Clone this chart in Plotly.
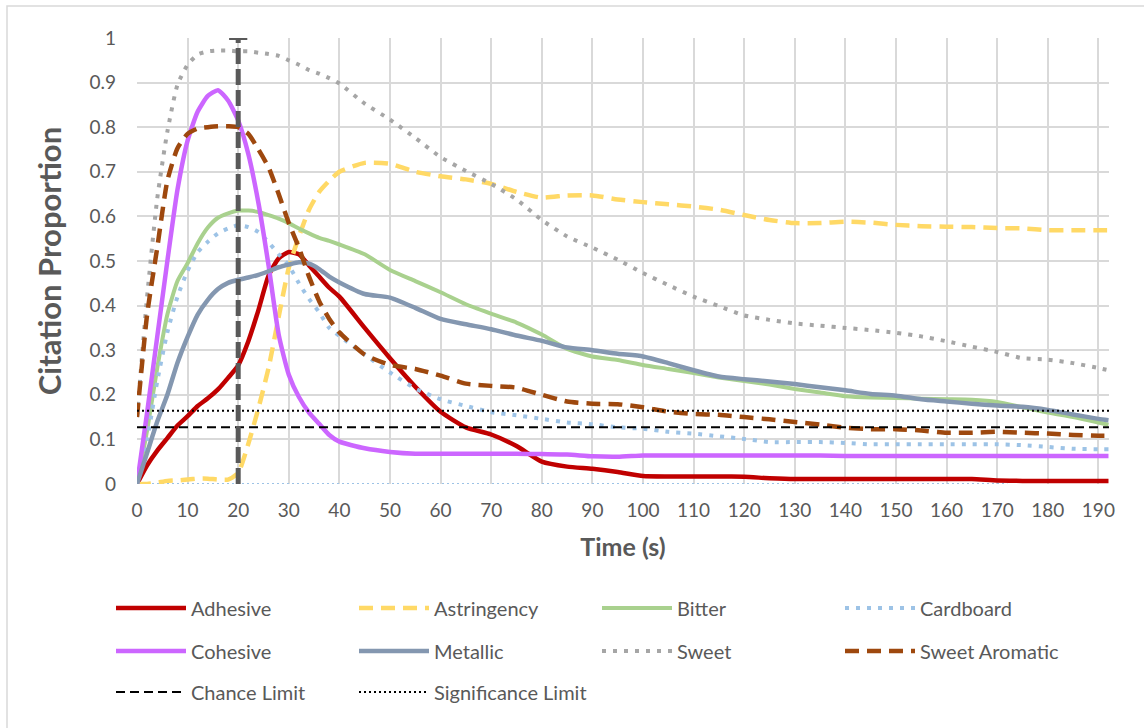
import plotly.graph_objects as go

# ---------------- data ----------------
time = [0, 2, 4, 6, 8, 10, 12, 14, 16, 18, 20, 22, 24, 26, 28, 30, 32, 34, 36, 38, 40,
        45, 50, 55, 60, 65, 70, 75, 80, 85, 90, 95, 100, 105, 110, 115, 120, 125, 130,
        135, 140, 145, 150, 155, 160, 165, 170, 175, 180, 185, 190, 192]

adhesive = [0, 0.042, 0.075, 0.103, 0.131, 0.152, 0.175, 0.192, 0.212, 0.238, 0.266, 0.32,
            0.39, 0.467, 0.506, 0.52, 0.515, 0.49, 0.465, 0.44, 0.42,
            0.35, 0.282, 0.218, 0.162, 0.127, 0.111, 0.085, 0.05, 0.039, 0.034, 0.027,
            0.018, 0.017, 0.017, 0.017, 0.016, 0.013, 0.011, 0.011, 0.011, 0.011, 0.011,
            0.011, 0.011, 0.011, 0.008, 0.007, 0.007, 0.007, 0.007, 0.007]

astringency = [0, 0.0, 0.003, 0.007, 0.008, 0.01, 0.012, 0.012, 0.01, 0.01, 0.025, 0.09,
               0.17, 0.26, 0.375, 0.485, 0.555, 0.615, 0.655, 0.68, 0.7,
               0.72, 0.718, 0.7, 0.69, 0.683, 0.673, 0.655, 0.642, 0.647, 0.647, 0.638,
               0.632, 0.627, 0.622, 0.615, 0.603, 0.592, 0.585, 0.585, 0.588, 0.586, 0.581,
               0.578, 0.577, 0.576, 0.574, 0.573, 0.569, 0.569, 0.569, 0.569]

bitter = [0, 0.12, 0.26, 0.38, 0.455, 0.495, 0.54, 0.575, 0.597, 0.607, 0.613, 0.613,
          0.61, 0.603, 0.595, 0.585, 0.573, 0.562, 0.552, 0.545, 0.537,
          0.515, 0.48, 0.455, 0.43, 0.403, 0.382, 0.362, 0.335, 0.303, 0.286, 0.278,
          0.267, 0.258, 0.249, 0.239, 0.231, 0.223, 0.213, 0.205, 0.197, 0.194, 0.193,
          0.191, 0.19, 0.189, 0.184, 0.172, 0.16, 0.15, 0.138, 0.133]

cardboard = [0, 0.1, 0.23, 0.34, 0.42, 0.478, 0.52, 0.543, 0.562, 0.573, 0.58, 0.576,
             0.565, 0.542, 0.515, 0.49, 0.45, 0.415, 0.385, 0.35, 0.332,
             0.29, 0.25, 0.214, 0.19, 0.175, 0.161, 0.154, 0.146, 0.138, 0.134, 0.127,
             0.124, 0.117, 0.113, 0.107, 0.101, 0.094, 0.094, 0.094, 0.092, 0.089, 0.089,
             0.089, 0.089, 0.089, 0.089, 0.087, 0.083, 0.079, 0.078, 0.078]

cohesive = [0, 0.16, 0.33, 0.5, 0.66, 0.77, 0.835, 0.87, 0.883, 0.86, 0.815, 0.74,
            0.63, 0.49, 0.335, 0.245, 0.195, 0.16, 0.135, 0.11, 0.095,
            0.08, 0.072, 0.068, 0.068, 0.068, 0.068, 0.068, 0.067, 0.066, 0.062, 0.061,
            0.064, 0.064, 0.064, 0.064, 0.064, 0.064, 0.064, 0.064, 0.063, 0.063, 0.063,
            0.063, 0.063, 0.063, 0.063, 0.063, 0.063, 0.063, 0.063, 0.063]

metallic = [0, 0.07, 0.14, 0.2, 0.272, 0.33, 0.38, 0.413, 0.437, 0.451, 0.458, 0.463,
            0.469, 0.477, 0.486, 0.492, 0.497, 0.494, 0.482, 0.465, 0.452,
            0.426, 0.418, 0.395, 0.37, 0.358, 0.347, 0.333, 0.321, 0.306, 0.3, 0.292,
            0.286, 0.271, 0.255, 0.241, 0.235, 0.23, 0.224, 0.217, 0.21, 0.202, 0.198,
            0.19, 0.185, 0.18, 0.176, 0.173, 0.166, 0.156, 0.146, 0.143]

sweet = [0.15, 0.42, 0.64, 0.79, 0.895, 0.94, 0.963, 0.97, 0.972, 0.972, 0.97, 0.97,
         0.967, 0.964, 0.96, 0.95, 0.94, 0.928, 0.92, 0.91, 0.898,
         0.853, 0.817, 0.776, 0.733, 0.702, 0.673, 0.638, 0.592, 0.555, 0.53, 0.503,
         0.473, 0.446, 0.42, 0.399, 0.378, 0.368, 0.36, 0.355, 0.35, 0.345, 0.339,
         0.331, 0.32, 0.308, 0.296, 0.282, 0.279, 0.271, 0.26, 0.255]

sweet_aromatic = [0.15, 0.38, 0.53, 0.68, 0.753, 0.785, 0.797, 0.8, 0.802, 0.802, 0.8,
                  0.785, 0.75, 0.71, 0.65, 0.585, 0.53, 0.465, 0.41, 0.37, 0.34,
                  0.29, 0.267, 0.258, 0.243, 0.225, 0.22, 0.216, 0.2, 0.185, 0.18, 0.179,
                  0.172, 0.162, 0.157, 0.155, 0.15, 0.145, 0.139, 0.133, 0.126, 0.123,
                  0.123, 0.12, 0.115, 0.115, 0.117, 0.115, 0.113, 0.11, 0.108, 0.108]

chance_limit = 0.127
significance_limit = 0.164
limit_time = [0, 192.1]

baseline_time = [0, 172]
baseline_vals = [0, 0]

stimulus_time = [20, 20]
stimulus_vals = [0, 1]

x_ticks = list(range(0, 200, 10))
y_ticks = [0, 0.1, 0.2, 0.3, 0.4, 0.5, 0.6, 0.7, 0.8, 0.9, 1]
y_tick_text = ["0", "0.1", "0.2", "0.3", "0.4", "0.5", "0.6", "0.7", "0.8", "0.9", "1"]

# ---------------- styling ----------------
FONT = "Lato, 'Open Sans', sans-serif"
TXT = "#595959"
SM = 0.55

series = [
    ("Adhesive", adhesive, "#C00000", 4.5, "solid", "legend"),
    ("Astringency", astringency, "#FFD966", 4.5, "14px,8px", "legend"),
    ("Bitter", bitter, "#A9D18E", 4.0, "solid", "legend"),
    ("Cardboard", cardboard, "#9DC3E6", 4.0, "4px,7px", "legend"),
    ("Cohesive", cohesive, "#CC66FF", 4.5, "solid", "legend2"),
    ("Metallic", metallic, "#8497B0", 4.5, "solid", "legend2"),
    ("Sweet", sweet, "#A6A6A6", 4.0, "4px,7px", "legend2"),
    ("Sweet Aromatic", sweet_aromatic, "#9E480E", 4.5, "14px,8px", "legend2"),
]

fig = go.Figure()

fig.add_trace(go.Scatter(x=baseline_time, y=baseline_vals, mode="lines",
                         line=dict(color="#9DC3E6", width=2, dash="2px,3px"),
                         showlegend=False, hoverinfo="skip"))

for name, vals, color, w, dash, lg in series:
    fig.add_trace(go.Scatter(x=time, y=vals, name=name, mode="lines",
                             line=dict(color=color, width=w, dash=dash,
                                       shape="spline", smoothing=SM),
                             legend=lg))

fig.add_trace(go.Scatter(x=limit_time, y=[chance_limit] * 2, name="Chance Limit",
                         mode="lines", line=dict(color="black", width=2, dash="9px,5px"),
                         legend="legend3"))
fig.add_trace(go.Scatter(x=limit_time, y=[significance_limit] * 2, name="Significance Limit",
                         mode="lines", line=dict(color="black", width=2, dash="2px,3px"),
                         legend="legend3"))

fig.add_trace(go.Scatter(x=stimulus_time, y=stimulus_vals, mode="lines",
                         line=dict(color="#595959", width=5, dash="16px,5px"),
                         showlegend=False, hoverinfo="skip"))
fig.add_trace(go.Scatter(x=stimulus_time[1:], y=stimulus_vals[1:], mode="markers",
                         marker=dict(symbol="line-ew", size=13,
                                     line=dict(color="#595959", width=4)),
                         showlegend=False, hoverinfo="skip"))

L, R, T, B = 137, 35, 38, 244
W, H = 1144, 728
pw, ph = W - L - R, H - T - B


def px2paper_x(px):
    return (px - L) / pw


def py2paper_y(py):
    return (H - B - py) / ph


legend_common = dict(orientation="h", font=dict(family=FONT, size=20, color=TXT),
                     entrywidth=158, entrywidthmode="pixels", itemwidth=70,
                     xanchor="left", yanchor="middle", bgcolor="rgba(0,0,0,0)",
                     traceorder="normal", itemclick=False)

fig.update_layout(
    width=W, height=H,
    margin=dict(l=L, r=R, t=T, b=B, autoexpand=False),
    paper_bgcolor="white", plot_bgcolor="white",
    font=dict(family=FONT, color=TXT),
    xaxis=dict(range=[0, 192.1], tickvals=x_ticks, showgrid=True, gridcolor="#D9D9D9",
               gridwidth=1.5, zeroline=False, showline=False, ticks="",
               tickfont=dict(family=FONT, size=19, color=TXT), ticklabelstandoff=13,
               title=dict(text="<b>Time (s)</b>", font=dict(family=FONT, size=25, color=TXT),
                          standoff=18)),
    yaxis=dict(range=[0, 1], tickvals=y_ticks, ticktext=y_tick_text, showgrid=True,
               gridcolor="#D9D9D9", gridwidth=1.5, zeroline=False, showline=False,
               ticks="", tickfont=dict(family=FONT, size=19, color=TXT),
               ticklabelstandoff=20,
               title=dict(text="<b>Citation Proportion</b>",
                          font=dict(family=FONT, size=31, color=TXT), standoff=18)),
    legend=dict(x=px2paper_x(111), y=py2paper_y(608), **legend_common),
    legend2=dict(x=px2paper_x(111), y=py2paper_y(651), **legend_common),
    legend3=dict(x=px2paper_x(111), y=py2paper_y(692), **legend_common),
    shapes=[dict(type="rect", xref="paper", yref="paper",
                 x0=px2paper_x(7), x1=px2paper_x(1160),
                 y0=py2paper_y(740), y1=py2paper_y(6),
                 line=dict(color="#D9D9D9", width=1.5), layer="below")],
)

fig.write_html("out.html", config={"displayModeBar": False},
               post_script="document.body.style.margin='0';document.body.style.overflow='hidden';")
